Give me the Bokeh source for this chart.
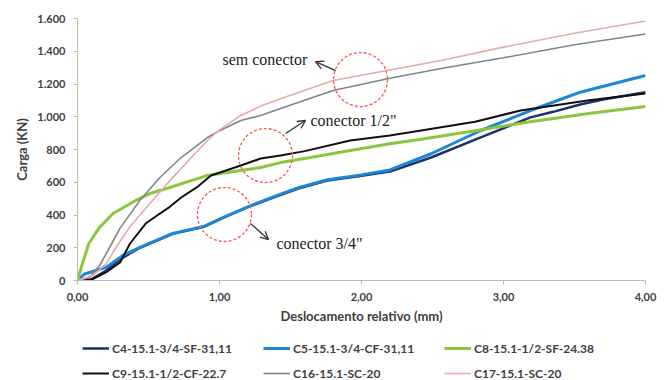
from bokeh.plotting import figure
from bokeh.layouts import column
from bokeh.models import (Range1d, FixedTicker, Legend, LegendItem, Label, Arrow,
                          OpenHead)
from bokeh.embed import file_html
from bokeh.resources import INLINE

# ---- data ----
c4_x = [0, 0.1, 0.2, 0.32, 0.44, 0.67, 0.89, 1.04, 1.2, 1.36, 1.55, 1.76, 2.0, 2.2, 2.49, 2.84, 3.19, 3.35, 3.54, 3.7, 4.0]
c4_y = [0, 8, 59, 140, 200, 285, 328, 388, 448, 500, 560, 610, 640, 665, 751, 874, 996, 1030, 1075, 1105, 1150]

c5_x = [0, 0.05, 0.2, 0.32, 0.44, 0.67, 0.89, 1.04, 1.2, 1.36, 1.55, 1.76, 2.0, 2.2, 2.49, 2.84, 3.19, 3.54, 4.0]
c5_y = [0, 40, 80, 153, 202, 287, 330, 390, 450, 505, 565, 615, 645, 675, 774, 916, 1038, 1150, 1252]

c8_x = [0, 0.035, 0.08, 0.155, 0.25, 0.41, 0.51, 0.65, 0.8, 0.915, 1.1, 1.29, 1.43, 1.6, 1.92, 2.2, 2.42, 2.8, 3.19, 3.6, 4.0]
c8_y = [0, 104, 226, 324, 409, 489, 531, 568, 610, 641, 665, 690, 720, 745, 794, 835, 862, 915, 970, 1020, 1062]

c9_x = [0, 0.1, 0.2, 0.3, 0.37, 0.48, 0.54, 0.65, 0.73, 0.85, 0.94, 1.15, 1.29, 1.43, 1.6, 1.92, 2.2, 2.42, 2.8, 3.12, 3.59, 4.0]
c9_y = [0, 5, 49, 110, 226, 348, 385, 450, 507, 575, 641, 702, 745, 763, 790, 855, 885, 916, 970, 1038, 1099, 1142]

c16_x = [0, 0.085, 0.155, 0.225, 0.3, 0.44, 0.58, 0.73, 0.915, 1.0, 1.15, 1.29, 1.43, 1.8, 2.2, 2.56, 3.0, 3.5, 4.0]
c16_y = [0, 18, 90, 200, 320, 490, 629, 751, 873, 915, 977, 1008, 1050, 1160, 1235, 1295, 1360, 1440, 1505]

c17_x = [0, 0.106, 0.2, 0.27, 0.37, 0.53, 0.63, 0.8, 0.915, 1.0, 1.15, 1.29, 1.43, 1.8, 2.2, 2.56, 3.0, 3.5, 4.0]
c17_y = [0, 30, 100, 200, 330, 490, 590, 750, 855, 920, 1008, 1065, 1110, 1221, 1285, 1343, 1425, 1510, 1585]

series_names = ["C4-15.1-3/4-SF-31,11", "C5-15.1-3/4-CF-31,11", "C8-15.1-1/2-SF-24.38",
                "C9-15.1-1/2-CF-22.7", "C16-15.1-SC-20", "C17-15.1-SC-20"]

x_ticks = [0, 1, 2, 3, 4]
x_tick_labels = ["0,00", "1,00", "2,00", "3,00", "4,00"]
y_ticks = [0, 200, 400, 600, 800, 1000, 1200, 1400, 1600]
y_tick_labels = ["0", "200", "400", "600", "800", "1.000", "1.200", "1.400", "1.600"]

# annotations
note_texts = ["sem conector", "conector 1/2\"", "conector 3/4\""]
note_x = [1.021, 1.641, 1.401]
note_y = [1350, 977, 226]
circle_x = [1.993, 1.324, 1.035]
circle_y = [1227, 763, 403]
arrow_tail_x = [1.817, 1.465, 1.218]
arrow_tail_y = [1282, 898, 348]
arrow_head_x = [1.676, 1.606, 1.345]
arrow_head_y = [1337, 977, 250]

FONT = "Lato"
TXT = "#404040"

p = figure(width=672, height=326, output_backend="svg", toolbar_location=None,
           x_range=Range1d(0, 4), y_range=Range1d(0, 1600),
           min_border_left=77, min_border_right=27, min_border_top=18, min_border_bottom=46)
p.outline_line_color = None
p.grid.visible = False
p.background_fill_color = "white"
p.border_fill_color = "white"

for ax in (p.xaxis[0], p.yaxis[0]):
    ax.axis_line_color = "#b8b8b8"
    ax.major_tick_line_color = "#b8b8b8"
    ax.minor_tick_line_color = None
    ax.major_tick_in = 0
    ax.major_tick_out = 4
    ax.major_label_text_font = FONT
    ax.major_label_text_font_style = "bold"
    ax.major_label_text_font_size = "11px"
    ax.major_label_text_color = TXT
    ax.axis_label_text_font = FONT
    ax.axis_label_text_font_style = "bold"
    ax.axis_label_text_font_size = "13px"
    ax.axis_label_text_color = TXT

p.xaxis.ticker = FixedTicker(ticks=x_ticks)
p.xaxis.major_label_overrides = {t: l for t, l in zip(x_ticks, x_tick_labels)}
p.yaxis.ticker = FixedTicker(ticks=y_ticks)
p.yaxis.major_label_overrides = {t: l for t, l in zip(y_ticks, y_tick_labels)}
p.xaxis.axis_label = "Deslocamento relativo (mm)"
p.yaxis.axis_label = "Carga (KN)"
p.xaxis.major_label_standoff = 8
p.xaxis.axis_label_standoff = 4
p.yaxis.major_label_standoff = 8
p.yaxis.axis_label_standoff = 4

styles = [
    (c4_x, c4_y, "#1f2f6b", 2.5),
    (c5_x, c5_y, "#1b86d4", 3.0),
    (c8_x, c8_y, "#8cc63e", 3.0),
    (c9_x, c9_y, "#111111", 2.0),
    (c16_x, c16_y, "#7f8589", 1.6),
    (c17_x, c17_y, "#e6aaaa", 1.6),
]
for (xs, ys, col, w) in styles:
    p.line(xs, ys, line_color=col, line_width=w)

# dashed circles
p.scatter(circle_x, circle_y, marker="circle", size=54, fill_alpha=0,
          line_color="#f05a50", line_width=1.3, line_dash="3 2")

# arrows
for tx, ty, hx, hy in zip(arrow_tail_x, arrow_tail_y, arrow_head_x, arrow_head_y):
    p.add_layout(Arrow(x_start=tx, y_start=ty, x_end=hx, y_end=hy,
                       line_color="#333333", line_width=1.3,
                       end=OpenHead(size=8, line_color="#333333", line_width=1.3)))

for t, x, y in zip(note_texts, note_x, note_y):
    p.add_layout(Label(x=x, y=y, text=t, text_font="Liberation Serif",
                       text_font_size="16px", text_color="#222222",
                       text_align="left", text_baseline="middle"))

# ---- legend strip (separate figure below the chart; its frame is aligned with the chart's) ----
lg = figure(width=672, height=54, output_backend="svg", toolbar_location=None,
            x_range=Range1d(0, 1), y_range=Range1d(0, 1),
            min_border_left=77, min_border_right=27, min_border_top=0, min_border_bottom=0,
            x_axis_type=None, y_axis_type=None)
lg.outline_line_color = None
lg.grid.visible = False
lg.border_fill_color = "white"

leg_renderers = []
for (xs, ys, col, w) in styles:
    # one point: nothing is drawn in the strip, but the legend swatch gets its style
    r = lg.line([xs[0]], [ys[0]], line_color=col, line_width=w)
    leg_renderers.append(r)

items = [LegendItem(label=n, renderers=[r]) for n, r in zip(series_names, leg_renderers)]
# Bokeh fills grid legends column by column: reorder so rows read C4 C5 C8 / C9 C16 C17
order = [0, 3, 1, 4, 2, 5]
legend = Legend(items=[items[i] for i in order], ncols=3, location=(5, -5),
                glyph_width=27, glyph_height=24, label_width=150, label_height=24,
                label_standoff=3, spacing=1, padding=0, margin=0,
                border_line_alpha=0, background_fill_alpha=0,
                label_text_font=FONT, label_text_font_style="bold",
                label_text_font_size="12px", label_text_color=TXT)
lg.add_layout(legend, "center")

layout = column(p, lg, spacing=0)
open("out.html", "w").write(file_html(layout, INLINE))
